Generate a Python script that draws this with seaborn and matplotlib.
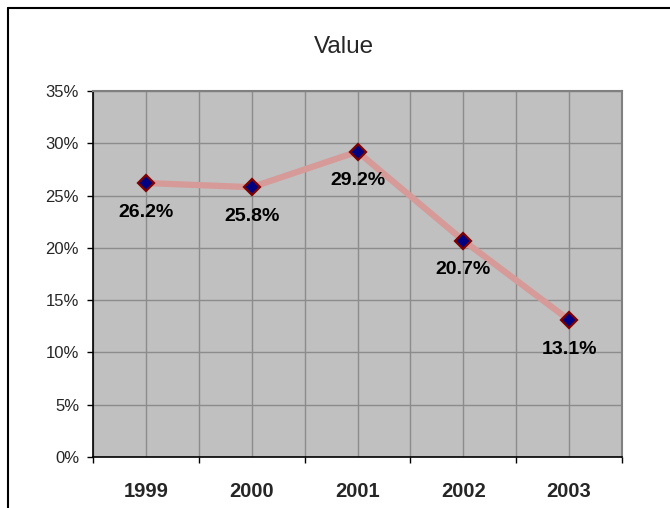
import matplotlib
matplotlib.use("Agg")
import matplotlib.pyplot as plt
import seaborn as sns
import pandas as pd
import numpy as np
from matplotlib.lines import Line2D
from matplotlib.ticker import FixedLocator, FuncFormatter

years = ["1999", "2000", "2001", "2002", "2003"]
values = [26.2, 25.8, 29.2, 20.7, 13.1]
title = "Value"
yticks = [0, 5, 10, 15, 20, 25, 30, 35]

sns.set_style("white")
plt.rcParams['font.family'] = ['Liberation Sans', 'DejaVu Sans']

df = pd.DataFrame({"pos": np.arange(len(years)), "value": values})

fig = plt.figure(figsize=(6.7, 5.08), dpi=100)
ax = fig.add_axes([93/670, 1-457/508, (622-93)/670, (457-91)/508])
ax.set_facecolor("#C0C0C0")

sns.lineplot(data=df, x="pos", y="value", ax=ax, color="#D69A98", linewidth=4.5,
             marker="D", markersize=8.5, markerfacecolor="#000080",
             markeredgecolor="#800000", markeredgewidth=1.6, zorder=5)

for i, v in enumerate(values):
    ax.annotate(f"{v:.1f}%", (i, v), xytext=(0, -21), textcoords="offset points",
                ha="center", va="center", fontsize=14, fontweight="bold", color="black",
                zorder=6)

ax.set_xlim(-0.5, len(years) - 0.5)
ax.set_ylim(0, 35)
ax.set_yticks(yticks)
ax.yaxis.set_major_formatter(FuncFormatter(lambda v, p: f"{int(v)}%"))
ax.set_xticks(np.arange(len(years)))
ax.set_xticklabels(years, fontsize=14.5, fontweight="bold")
ax.xaxis.set_minor_locator(FixedLocator(np.arange(-0.5, len(years), 1.0)))

ax.tick_params(axis="x", which="major", length=0, pad=18)
ax.tick_params(axis="x", which="minor", length=4, width=1, color="black", direction="out", bottom=True)
ax.tick_params(axis="y", which="major", length=4, width=1, color="black", direction="out",
               left=True, labelsize=12, pad=6)

ax.grid(True, which="both", axis="x", color="#8C8C8C", linewidth=1)
ax.grid(True, which="major", axis="y", color="#8C8C8C", linewidth=1)
ax.set_axisbelow(True)

ax.set_xlabel("")
ax.set_ylabel("")
for s in ["top", "right"]:
    ax.spines[s].set_visible(True)
    ax.spines[s].set_color("#808080")
    ax.spines[s].set_linewidth(1.5)
for s in ["left", "bottom"]:
    ax.spines[s].set_visible(True)
    ax.spines[s].set_color("black")
    ax.spines[s].set_linewidth(1.2)

fig.text(344/670, 1-47/508, title, ha="center", va="center", fontsize=17.5)

# chart area border (top and left visible, extends beyond image)
fig.add_artist(Line2D([8/670, 1.0], [1-8/508, 1-8/508], transform=fig.transFigure, color="black", linewidth=1.5))
fig.add_artist(Line2D([8/670, 8/670], [0.0, 1-8/508], transform=fig.transFigure, color="black", linewidth=1.5))

fig.savefig("out.png", dpi=100, facecolor="white")
